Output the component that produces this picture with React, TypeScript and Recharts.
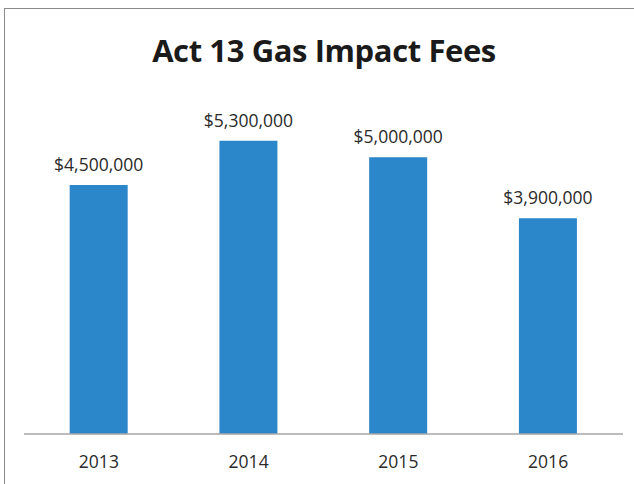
import React from 'react';
import { BarChart, Bar, XAxis, YAxis, LabelList } from 'recharts';

const years = ['2013', '2014', '2015', '2016'];
const fees = [4500000, 5300000, 5000000, 3900000];

const chartData = years.map((year, i) => ({ year, fee: fees[i] }));

const formatFee = (v: number) => `$${v.toLocaleString('en-US')}`;

const font = '"Open Sans", "Noto Sans", sans-serif';

export default function App() {
  return (
    <div
      style={{
        position: 'absolute',
        left: 0,
        top: 0,
        width: 634,
        height: 484,
        background: '#fff',
        fontFamily: font,
      }}
    >
      {/* frame, only top and left edges show in the scan */}
      <div
        style={{
          position: 'absolute',
          left: 4,
          top: 8,
          width: 640,
          height: 490,
          borderTop: '1.5px solid #8a8a8a',
          borderLeft: '1.5px solid #8a8a8a',
        }}
      />
      <div
        style={{
          position: 'absolute',
          left: 0,
          top: 29,
          width: 648,
          textAlign: 'center',
          fontSize: 31,
          fontWeight: 700,
          color: '#1a1a1a',
          letterSpacing: -0.4,
        }}
      >
        Act 13 Gas Impact Fees
      </div>
      <div style={{ position: 'absolute', left: 0, top: 0 }}>
        <BarChart
          width={634}
          height={484}
          data={chartData}
          margin={{ top: 102, right: 11, left: 24, bottom: 0 }}
          barCategoryGap="30.5%"
        >
          <XAxis
            dataKey="year"
            height={50}
            tickLine={false}
            tickSize={0}
            tickMargin={22}
            axisLine={{ stroke: '#a6a6a6', strokeWidth: 1.5 }}
            tick={{ fill: '#2a2a2a', fontSize: 17.5, fontFamily: font }}
          />
          <YAxis hide domain={[0, 6000000]} />
          <Bar dataKey="fee" fill="#2B86CA" isAnimationActive={false}>
            <LabelList
              dataKey="fee"
              position="top"
              offset={14}
              formatter={(v: any) => formatFee(Number(v))}
              style={{ fill: '#2a2a2a', fontSize: 17.5, fontFamily: font }}
            />
          </Bar>
        </BarChart>
      </div>
    </div>
  );
}
